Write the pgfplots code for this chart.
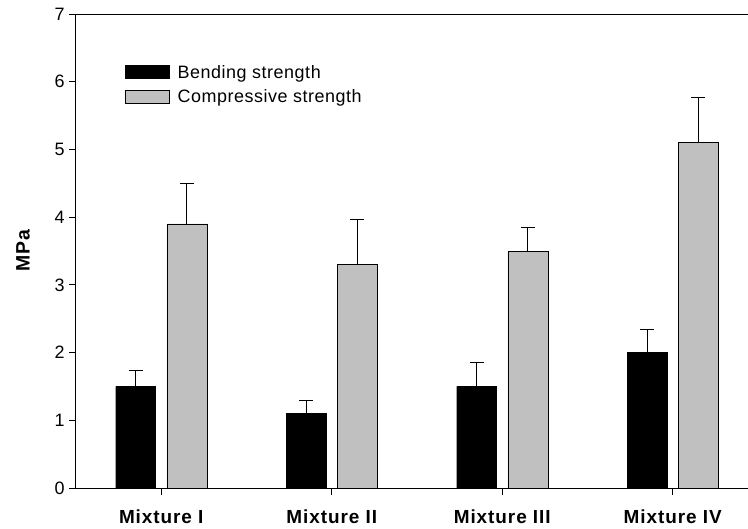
\documentclass[border=0pt]{standalone}
\usepackage{pgfplots}
\pgfplotsset{compat=1.18}
\usepackage{fontspec}
\setmainfont{Liberation Sans}
\newfontfamily\lsfont[LetterSpace=5]{Liberation Sans}
\newfontfamily\lgfont[LetterSpace=3]{Liberation Sans}
\definecolor{bargray}{HTML}{C0C0C0}
\begin{document}
\begin{tikzpicture}
\begin{axis}[
  scale only axis, width=682bp, height=474bp,
  xmin=-0.5, xmax=3.5, ymin=0, ymax=7,
  separate axis lines,
  axis x line*=box, axis y line*=left,
  axis line style={line width=1bp, black},
  ybar, bar width=0.234,
  xtick={0,1,2,3},
  xticklabels={Mixture I,Mixture II,Mixture III,Mixture IV},
  xtick pos=bottom, ytick pos=left,
  ytick={0,1,2,3,4,5,6,7},
  tick align=outside, major tick length=7bp,
  tick style={line width=0.8bp, black},
  /pgf/number format/assume math mode=true,
  yticklabel style={font=\fontsize{18}{20}\selectfont, xshift=-1bp},
  xticklabel style={font=\lsfont\bfseries\fontsize{19}{21}\selectfont, yshift=-11bp},
  ylabel={MPa},
  ylabel style={font=\lsfont\bfseries\fontsize{19.5}{21}\selectfont, at={(axis description cs:0,0.5)}, yshift=53bp, anchor=center},
  legend style={at={(axis description cs:0.0718,0.897)}, anchor=north west, draw=none, fill=none,
    inner sep=0pt, font=\lgfont\fontsize{18}{21}\selectfont, row sep=6bp},
  legend cell align=left,
  legend image code/.code={\draw[#1, line width=1bp] (0bp,-6.5bp) rectangle (44bp,6.5bp); \path[draw=none,fill=none] (0bp,0bp) -- (50bp,0bp);},
  error bars/error bar style={line width=1bp, black},
  error bars/error mark options={line width=1bp, black, mark size=7bp, rotate=90},
]
\addplot[fill=black, draw=black, bar shift=-0.15,
  error bars/.cd, y dir=plus, y explicit]
  coordinates {(0,1.5) +- (0,0.23) (1,1.1) +- (0,0.19) (2,1.5) +- (0,0.36) (3,2.0) +- (0,0.34)};
\addplot[fill=bargray, draw=black, bar shift=0.15,
  error bars/.cd, y dir=plus, y explicit]
  coordinates {(0,3.9) +- (0,0.59) (1,3.3) +- (0,0.66) (2,3.5) +- (0,0.35) (3,5.1) +- (0,0.66)};
\legend{Bending strength, Compressive strength}
\end{axis}
\pgfresetboundingbox
\path[use as bounding box] (-76bp,-41bp) rectangle (672bp,488bp);
\end{tikzpicture}
\end{document}
